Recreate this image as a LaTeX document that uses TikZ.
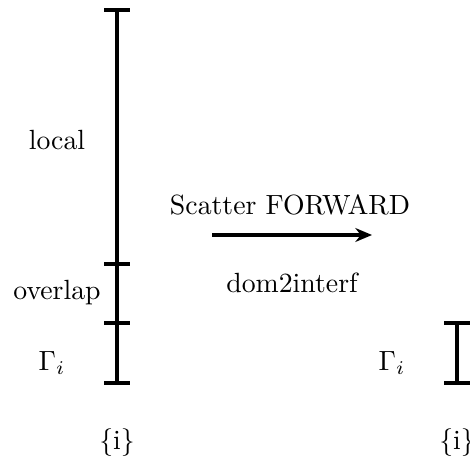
\documentclass[tikz,border=0pt]{standalone}
\usetikzlibrary{arrows.meta}
\begin{document}
\begin{tikzpicture}[x=0.36pt,y=-0.36pt,
  bar/.style={line width=1.5pt},
  tick/.style={line width=1.5pt},
  lbl/.style={inner sep=0pt,font=\normalsize},
  arr/.style={line width=1.2pt,-{Stealth[length=6pt,width=5pt]}}]
\useasboundingbox (0,0) rectangle (469,474);
% left bar
\coordinate (t0) at (117,10);
\coordinate (t1) at (117,264);
\coordinate (t2) at (117,323);
\coordinate (t3) at (117,383);
\draw[bar] (t0) -- (t3);
\foreach \c in {t0,t1,t2,t3}{\draw[tick] ([xshift=-13*0.36pt]\c) -- ([xshift=13*0.36pt]\c);}
% right bar
\coordinate (r0) at (457,323);
\coordinate (r1) at (457,383);
\draw[bar] (r0) -- (r1);
\foreach \c in {r0,r1}{\draw[tick] ([xshift=-13*0.36pt]\c) -- ([xshift=13*0.36pt]\c);}
% labels
\node[lbl] (local) at (57,140) {local};
\node[lbl] (overlap) at (57,293) {overlap};
\node[lbl] (gl) at (52,363) {$\Gamma_i$};
\node[lbl] (il) at (117,443) {\{i\}};
\node[lbl] (gr) at (392,363) {$\Gamma_i$};
\node[lbl] (ir) at (457,443) {\{i\}};
\node[lbl] (scat) at (290,205) {Scatter FORWARD};
\node[lbl] (dom) at (292,283) {dom2interf};
\coordinate (a0) at (212,235);
\coordinate (a1) at (372,235);
\draw[arr] (a0) -- (a1);
\end{tikzpicture}
\end{document}
